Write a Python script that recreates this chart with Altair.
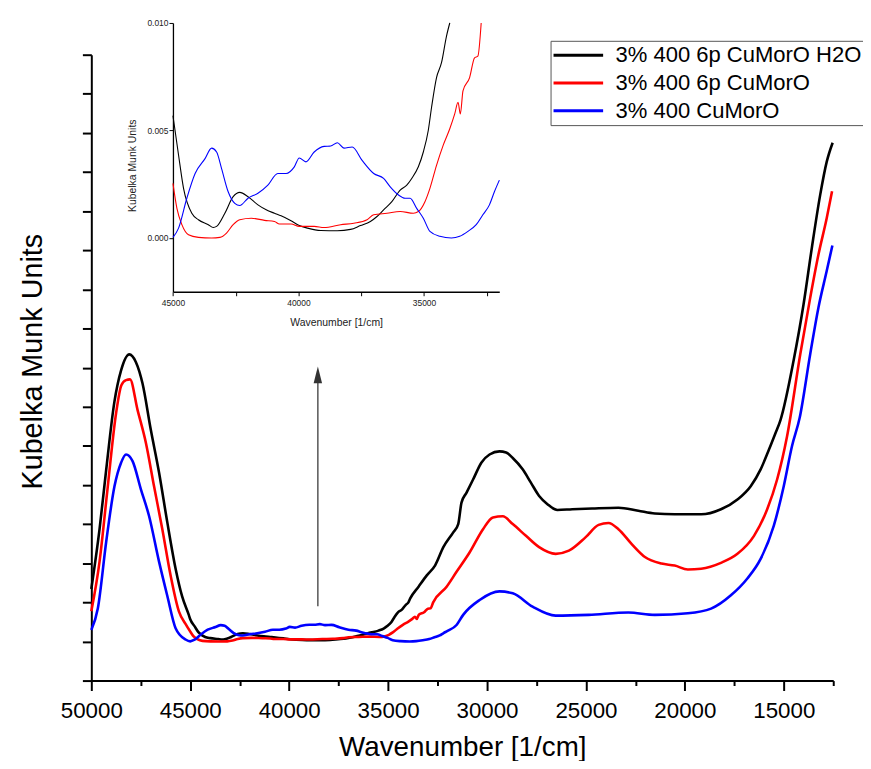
import altair as alt
import pandas as pd

FONT = "Liberation Sans"

series_names = ["3% 400 6p CuMorO H2O", "3% 400 6p CuMorO", "3% 400 CuMorO"]
series_colors = ["#000000", "#ff0000", "#0000ff"]

black_wavenumber = [50000, 49584, 49248, 48832, 48496, 48080, 47745, 47414, 46993, 46577, 46161, 45740, 45409, 45073,
                    45000, 44776, 44578, 44249, 43986, 43590, 43393, 43261, 42932, 42602, 42339, 42009, 41614, 41285,
                    40955, 40692, 40296, 39967, 39638, 39111, 38452, 37925, 37530, 37135, 36871, 36608, 36279, 35949,
                    35685, 35488, 35224, 35026, 34829, 34697, 34500, 34302, 34104, 33972,
                    33881, 33460, 33044, 32628, 32207, 31706, 31455, 31290, 31040, 30704, 30288, 29872, 29371, 29035,
                    28699, 28198, 27782, 27366, 26945, 26444, 25692, 24690, 23357, 22354, 21518, 20515, 19177, 18175,
                    17342, 16671, 16170, 15753, 15417, 15167, 14501, 14000, 13583, 13162, 12831, 12530]
black_km = [0.0134, 0.0287, 0.0439, 0.0613, 0.0693, 0.0734, 0.0714, 0.0660, 0.0541, 0.0432, 0.0305, 0.0186, 0.0115, 0.0068,
            0.00569, 0.00385, 0.00231, 0.00115, 0.00085, 0.00062, 0.00049, 0.00054, 0.00115, 0.00192, 0.00212, 0.00192,
            0.00154, 0.00131, 0.00115, 0.00103, 0.00080, 0.00058, 0.00046, 0.00035, 0.00034, 0.00040, 0.00058, 0.00077,
            0.00100, 0.00131, 0.00169, 0.00223, 0.00246, 0.00277, 0.00331, 0.00400, 0.00500, 0.00608, 0.00746, 0.00815,
            0.00938, 0.0100,
            0.0110, 0.0140, 0.0169, 0.0194, 0.0241, 0.0279, 0.0300, 0.0355, 0.0380, 0.0414, 0.0457, 0.0478, 0.0486,
            0.0483, 0.0469, 0.0440, 0.0406, 0.0372, 0.0351, 0.0336, 0.0338, 0.0340, 0.0342, 0.0334, 0.0327, 0.0325,
            0.0325, 0.0338, 0.0363, 0.0397, 0.0440, 0.0490, 0.0533, 0.0566, 0.0719, 0.0862, 0.1006, 0.1141, 0.1226,
            0.1275]

red_wavenumber = [50000, 49584, 49183, 48747, 48481, 48246, 48045, 47664, 47243, 46827, 46411, 45990, 45574, 45239,
                  45000, 44842, 44644, 44381, 43986, 43459, 43129, 42866, 42602, 42339, 41878, 41351, 40955, 40758,
                  40296, 39967, 39374, 38979, 38320, 37793, 37266, 37003, 36476, 35949, 35422, 35224, 34961, 34763,
                  34500, 34236, 33972, 33775, 33643, 33551, 33446, 33182, 32985, 32853, 32721,
                  32041, 31540, 30874, 30202, 29701, 29201, 28699, 28032, 27366, 26529, 25862, 25025, 24359, 23858,
                  23357, 22685, 22019, 21182, 20515, 19849, 19177, 18175, 17342, 16505, 15838, 15337, 14836, 14165,
                  13663, 13247, 12831, 12560]
red_km = [0.0077, 0.0204, 0.0389, 0.0584, 0.0655, 0.0668, 0.0670, 0.0592, 0.0508, 0.0396, 0.0287, 0.0168, 0.0077, 0.0045,
          0.00254, 0.00138, 0.00062, 0.00015, 0.00003, 0.0, 0.00003, 0.00023, 0.00062, 0.00085, 0.00092, 0.00082,
          0.00077, 0.00065, 0.00065, 0.00054, 0.00054, 0.00049, 0.00062, 0.00069, 0.00085, 0.00108, 0.00115, 0.00123,
          0.00115, 0.00123, 0.00169, 0.00231, 0.00338, 0.00431, 0.00508, 0.00577, 0.00631, 0.00577, 0.00684, 0.00746,
          0.00838, 0.00846, 0.0100,
          0.0140, 0.0178, 0.0228, 0.0287, 0.0317, 0.0320, 0.0300, 0.0270, 0.0241, 0.0224, 0.0232, 0.0266, 0.0298,
          0.0303, 0.0287, 0.0249, 0.0216, 0.0199, 0.0194, 0.0184, 0.0186, 0.0201, 0.0224, 0.0270, 0.0338, 0.0414,
          0.0524, 0.0735, 0.0879, 0.0989, 0.1082, 0.1151]

blue_wavenumber = [50000, 49669, 49248, 48832, 48496, 48246, 47915, 47494, 47078, 46577, 46161, 45740, 45239,
                   45000, 44776, 44447, 44117, 43722, 43459, 43261, 43063, 42800, 42536, 42339, 42009, 41614, 41219,
                   40824, 40494, 40165, 39967, 39703, 39374, 38979, 38715, 38452, 38188, 37859, 37464, 37003, 36608,
                   36344, 36015, 35751, 35553, 35290, 35026, 34763, 34368, 33907, 33577, 33248, 32919, 32655, 32392,
                   32194, 31996,
                   31540, 31205, 30373, 29371, 28699, 27697, 26529, 24860, 22855, 21518, 19849, 18675, 17673, 16841,
                   16170, 15503, 15002, 14586, 14200, 13663, 13247, 12831, 12545]
blue_km = [0.0029, 0.0085, 0.0255, 0.0396, 0.0457, 0.0478, 0.0461, 0.0389, 0.0320, 0.0204, 0.0117, 0.0034, 0.0005,
           0.00003, 0.00046, 0.00185, 0.00300, 0.00369, 0.00418, 0.00400, 0.00323, 0.00215, 0.00161, 0.00151, 0.00185,
           0.00208, 0.00246, 0.00300, 0.00300, 0.00331, 0.00372, 0.00354, 0.00400, 0.00426, 0.00428, 0.00443, 0.00418,
           0.00423, 0.00361, 0.00300, 0.00277, 0.00238, 0.00200, 0.00185, 0.00185, 0.00138, 0.00092, 0.00031, 0.00008,
           0.0, 0.00008, 0.00031, 0.00062, 0.00108, 0.00154, 0.00215, 0.00269,
           0.0042, 0.0068, 0.0106, 0.0128, 0.0123, 0.0089, 0.0066, 0.0068, 0.0074, 0.0068, 0.0072, 0.0084, 0.0118,
           0.0161, 0.0211, 0.0296, 0.0397, 0.0499, 0.0571, 0.0735, 0.0854, 0.0947, 0.1012]

main_x_ticks = [50000, 47500, 45000, 42500, 40000, 37500, 35000, 32500, 30000, 27500, 25000, 22500, 20000, 17500,
                15000, 12500]
main_y_ticks = [-0.01, 0.0, 0.01, 0.02, 0.03, 0.04, 0.05, 0.06, 0.07, 0.08, 0.09, 0.10, 0.11, 0.12, 0.13, 0.14, 0.15]
inset_x_ticks = [45000, 42500, 40000, 37500, 35000, 32500]
inset_y_ticks = [0.0, 0.005, 0.010]

arrow_wavenumber = [38550]
arrow_km_start = [0.0090]
arrow_km_end = [0.0690]
arrow_km_tip = [0.0703]

rows = []
for name, ws, vs in zip(series_names,
                        [black_wavenumber, red_wavenumber, blue_wavenumber],
                        [black_km, red_km, blue_km]):
    for w, v in zip(ws, vs):
        rows.append({"series": name, "wavenumber": w, "km": v})
df = pd.DataFrame(rows)

arrow_df = pd.DataFrame({"wavenumber": arrow_wavenumber, "start": arrow_km_start,
                         "end": arrow_km_end, "tip": arrow_km_tip})

color = alt.Color(
    "series:N",
    scale=alt.Scale(domain=series_names, range=series_colors),
    sort=series_names,
    legend=alt.Legend(
        title=None, orient="none", legendX=463, legendY=-14,
        symbolType="M-2.5,0L2.5,0", symbolSize=400, symbolStrokeWidth=3,
        symbolOffset=13.5, labelOffset=26, rowPadding=5, padding=3,
        labelFontSize=22.2, labelFont=FONT, labelColor="black", labelLimit=400,
        strokeColor="#555555", fillColor="white",
    ),
)

main_x_scale = alt.Scale(domain=[50000, 12500], nice=False, zero=False)
main_y_scale = alt.Scale(domain=[-0.01, 0.15], nice=False, zero=False)

main_lines = alt.Chart(df).mark_line(strokeWidth=2.6, interpolate="monotone").encode(
    x=alt.X("wavenumber:Q", scale=main_x_scale, axis=alt.Axis(
        orient="bottom",
        title="Wavenumber [1/cm]", values=main_x_ticks,
        labelExpr="datum.value % 5000 === 0 ? format(datum.value, 'd') : ''",
        tickSize={"condition": {"test": "datum.value % 5000 === 0", "value": 10}, "value": 5},
        labelFontSize=22.5, labelFont=FONT, labelColor="black", labelPadding=9,
        labelFlush=False, labelOverlap=False,
        titleFontSize=28, titleFont=FONT, titleFontWeight="normal", titleColor="black", titlePadding=12,
        domainColor="black", domainWidth=2, tickColor="black", tickWidth=2, grid=False)),
    y=alt.Y("km:Q", scale=main_y_scale, axis=alt.Axis(
        orient="left",
        title="Kubelka Munk Units", values=main_y_ticks, labels=False, tickSize=9,
        titleFontSize=29, titleFont=FONT, titleFontWeight="normal", titleColor="black", titlePadding=34,
        titleY=309,
        domainColor="black", domainWidth=2, tickColor="black", tickWidth=2, grid=False)),
    color=color,
)

arrow_line = alt.Chart(arrow_df).mark_rule(color="#555555", strokeWidth=1.5).encode(
    x=alt.X("wavenumber:Q", scale=main_x_scale, axis=None),
    y=alt.Y("start:Q", scale=main_y_scale, axis=None),
    y2="end:Q",
)
arrow_head = alt.Chart(arrow_df).mark_point(
    shape="M0,-1L0.5,1L-0.5,1Z", size=289, filled=True, color="#333333", opacity=1, yOffset=8.5
).encode(
    x=alt.X("wavenumber:Q", scale=main_x_scale, axis=None),
    y=alt.Y("tip:Q", scale=main_y_scale, axis=None),
)

inset = alt.Chart(df).transform_filter(
    (alt.datum.wavenumber <= 45000) & (alt.datum.wavenumber >= 31990) & (alt.datum.km <= 0.01005)
).mark_line(strokeWidth=1.1, interpolate="monotone").encode(
    x=alt.X("wavenumber:Q",
            scale=alt.Scale(domain=[45000, 32000], range=[82.3, 411.3], nice=False, zero=False),
            axis=alt.Axis(
                orient="bottom", offset=-392, title="Wavenumber [1/cm]", values=inset_x_ticks,
                labelExpr="datum.value % 5000 === 0 ? format(datum.value, 'd') : ''",
                tickSize=4, labelFontSize=8.5, labelFont=FONT, labelColor="#222222", labelPadding=3,
                labelFlush=False, labelOverlap=False,
                titleFontSize=10.5, titleFont=FONT, titleFontWeight="normal", titleColor="#222222",
                titlePadding=11, domainColor="black", domainWidth=1.3, tickColor="black", tickWidth=1,
                grid=False)),
    y=alt.Y("km:Q",
            scale=alt.Scale(domain=[-0.0025, 0.010], range=[239, -32], nice=False, zero=False),
            axis=alt.Axis(
                orient="left", offset=-82.3, title="Kubelka Munk Units", values=inset_y_ticks,
                format=".3f", tickSize=4, labelFontSize=8.5, labelFont=FONT, labelColor="#222222",
                labelPadding=1, labelFlush=False, labelOverlap=False,
                titleFontSize=10.5, titleFont=FONT, titleFontWeight="normal", titleColor="#222222",
                titlePadding=9, titleY=111.5,
                domainColor="black", domainWidth=1.3, tickColor="black", tickWidth=1, grid=False)),
    color=color,
)

chart = alt.layer(main_lines, arrow_line, arrow_head, inset).resolve_scale(
    x="independent", y="independent"
).resolve_axis(
    x="independent", y="independent"
).properties(
    width=748, height=631,
    autosize=alt.AutoSizeParams(type="none"),
    padding={"left": 84, "top": 44, "right": 30, "bottom": 78},
).configure(font=FONT).configure_view(stroke=None)

chart.save("out.html", embed_options={"renderer": "svg", "actions": False})
